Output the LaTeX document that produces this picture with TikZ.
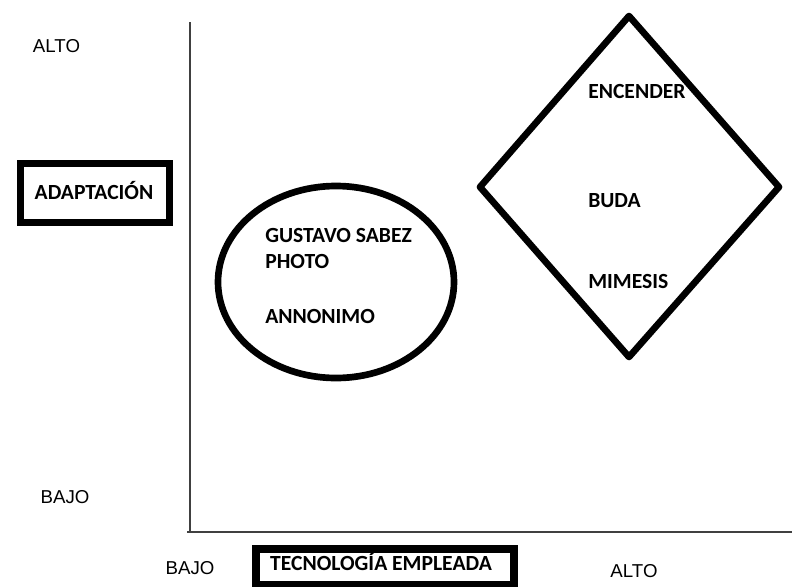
\documentclass[tikz,border=0pt]{standalone}
\usepackage{fontspec}
\newfontfamily\labfont{Carlito}
\newfontfamily\axfont{Liberation Sans}
\usetikzlibrary{shapes.geometric}
\begin{document}
\begin{tikzpicture}[x=0.75pt,y=-0.75pt,
  lab/.style={font=\labfont\bfseries\fontsize{16.2}{19}\selectfont,inner sep=0pt,text=black},
  axlab/.style={font=\axfont\fontsize{14}{16}\selectfont,inner sep=0pt,text=black},
  axisline/.style={draw=black!75,line width=1.5pt},
  thickbox/.style={draw=black,inner sep=0pt,outer sep=0pt},
  shapeline/.style={draw=black,line width=5pt,line join=round}]
\useasboundingbox (0,0) rectangle (792,586);
\fill[white] (0,0) rectangle (792,586);
% axes
\coordinate (ytop) at (190,22);
\coordinate (origin) at (190,532);
\coordinate (xstart) at (187,532);
\coordinate (xend) at (792,532);
\draw[axisline] (ytop) -- (origin);
\draw[axisline] (xstart) -- (xend);
% axis labels
\node[axlab,anchor=base] (altoy) at (56.5,52) {ALTO};
\node[axlab,anchor=base] (bajoy) at (65,503) {BAJO};
\node[axlab,anchor=base] (bajox) at (190,574) {BAJO};
\node[axlab,anchor=base] (altox) at (634,577) {ALTO};
% boxed titles
\node[thickbox,line width=5pt,minimum width=111.75pt,minimum height=44.25pt] (adaptbox) at (95,193) {};
\node[lab,anchor=base] (adapt) at (94,199) {ADAPTACIÓN};
\node[thickbox,line width=6pt,minimum width=193.5pt,minimum height=27pt] (tecbox) at (385,567) {};
\node[lab,anchor=base] (tec) at (381,570) {TECNOLOGÍA EMPLEADA};
% ellipse
\node[ellipse,draw=black,line width=5pt,minimum width=177pt,minimum height=144pt,inner sep=0pt] (ell) at (336,282) {};
\node[lab,anchor=base west] (gus) at (265,242) {GUSTAVO SABEZ};
\node[lab,anchor=base west] (photo) at (265,268) {PHOTO};
\node[lab,anchor=base west] (anon) at (265,323) {ANNONIMO};
% diamond
\coordinate (dt) at (629,16);
\coordinate (dr) at (779,187);
\coordinate (db) at (629,357);
\coordinate (dl) at (480,187);
\draw[shapeline] (dt) -- (dr) -- (db) -- (dl) -- cycle;
\node[lab,anchor=base west] (enc) at (588,98) {ENCENDER};
\node[lab,anchor=base west] (buda) at (588,207) {BUDA};
\node[lab,anchor=base west] (mim) at (588,288) {MIMESIS};
\end{tikzpicture}
\end{document}
